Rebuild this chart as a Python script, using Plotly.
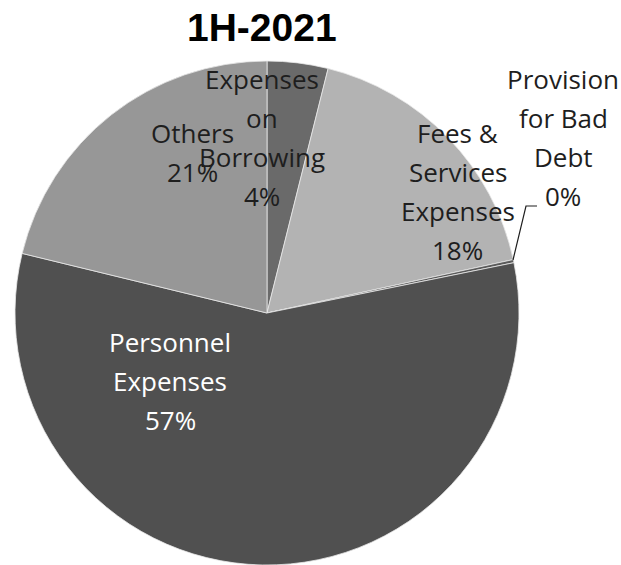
import plotly.graph_objects as go

# Expense breakdown for 1H-2021, clockwise from 12 o'clock
categories = ["Expenses on Borrowing", "Fees & Services Expenses",
              "Provision for Bad Debt", "Personnel Expenses", "Others"]
values = [3.9, 17.7, 0.2, 57.0, 21.2]
colors = ["#6a6a6a", "#b3b3b3", "#5a5a5a", "#505050", "#979797"]

# label text lines shown before the percentage, per category
label_lines = {
    "Expenses on Borrowing": ["Expenses", "on", "Borrowing"],
    "Fees & Services Expenses": ["Fees &", "Services", "Expenses"],
    "Provision for Bad Debt": ["Provision", "for Bad", "Debt"],
    "Personnel Expenses": ["Personnel", "Expenses"],
    "Others": ["Others"],
}

W, H = 621, 565
FONT = "Open Sans"

fig = go.Figure(go.Pie(
    labels=categories,
    values=values,
    sort=False,
    direction="clockwise",
    rotation=0,
    marker=dict(colors=colors, line=dict(color="#e8e8e8", width=0.8)),
    textinfo="none",
    hoverinfo="label+percent",
    showlegend=False,
    domain=dict(x=[15 / W, 519 / W], y=[0, 1 - 61 / H]),
))

total = sum(values)
pcts = {c: f"{round(v / total * 100):.0f}%" for c, v in zip(categories, values)}

# label block placement (pixel centre x, first-line y) and colour
placement = {
    "Expenses on Borrowing": (262, 79, "#1e1e1e"),
    "Fees & Services Expenses": (458, 133, "#1e1e1e"),
    "Provision for Bad Debt": (563, 79, "#1e1e1e"),
    "Personnel Expenses": (170, 342, "#ffffff"),
    "Others": (192, 133, "#1e1e1e"),
}
LINE_STEP = 39

for cat in categories:
    cx, y0, col = placement[cat]
    lines = label_lines[cat] + [pcts[cat]]
    for i, txt in enumerate(lines):
        fig.add_annotation(
            x=cx / W, y=1 - (y0 + i * LINE_STEP) / H,
            xref="paper", yref="paper",
            text=txt, showarrow=False,
            xanchor="center", yanchor="middle",
            font=dict(family=FONT, size=26, color=col),
        )

# leader line to the tiny provision slice
fig.add_shape(
    type="path",
    path=f"M {513 / W},{1 - 260 / H} L {526 / W},{1 - 206 / H} L {537 / W},{1 - 206 / H}",
    xref="paper", yref="paper",
    line=dict(color="#1e1e1e", width=1.2),
)

fig.add_annotation(
    x=262 / W, y=1 - 28 / H, xref="paper", yref="paper",
    text="<b>1H-2021</b>", showarrow=False,
    xanchor="center", yanchor="middle",
    font=dict(family="Liberation Sans, Arial", size=39, color="#000000"),
)

fig.update_layout(
    width=W, height=H,
    margin=dict(l=0, r=0, t=0, b=0),
    paper_bgcolor="#ffffff",
    plot_bgcolor="#ffffff",
)

fig.write_html("out.html")
